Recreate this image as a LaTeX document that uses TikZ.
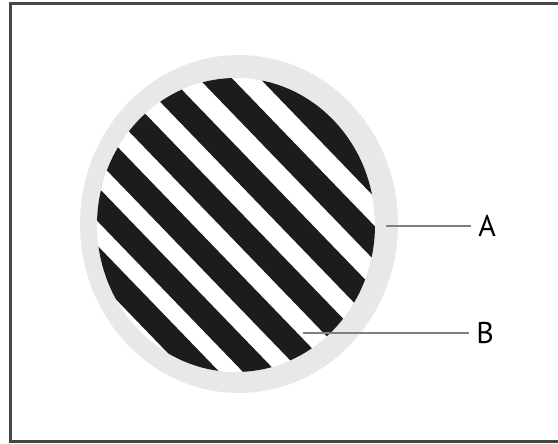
\documentclass[tikz,border=0pt]{standalone}
\usepackage{fontspec}
\setmainfont{PT Sans}
\definecolor{ringgray}{RGB}{232,232,232}
\definecolor{leadgray}{RGB}{128,128,128}
\definecolor{framegray}{RGB}{70,70,70}
\definecolor{stripeblack}{RGB}{28,28,28}
\begin{document}
\begin{tikzpicture}[x=0.5pt,y=0.5pt,
  leader/.style={draw=leadgray,line width=1.4pt},
  lbl/.style={anchor=west,inner xsep=3.5pt,inner ysep=0pt,font=\fontsize{15}{18}\selectfont}]
\useasboundingbox (0,0) rectangle (558,444);
\draw[framegray,line width=1.5pt] (562,440) -- (10.5,440) -- (10.5,2.5) -- (562,2.5);

% ring and striped core
\fill[ringgray] (239,220) ellipse [x radius=159,y radius=169];
\begin{scope}
\clip (236,219) ellipse [x radius=139,y radius=147];
\fill[white] (236,219) ellipse [x radius=139,y radius=147];
\begin{scope}[shift={(236,219)},rotate=-46]
\foreach \c in {-126,-85,-43,0,43,87,131}
  \fill[stripeblack] (-200,\c-12) rectangle (200,\c+12);
\end{scope}
\end{scope}

\coordinate (A-tip) at (386,218);
\node[lbl] (A-label) at (471,218) {A};
\draw[leader] (A-tip) -- (A-label);

\coordinate (B-tip) at (303,111);
\node[lbl] (B-label) at (469,111) {B};
\draw[leader] (B-tip) -- (B-label);
\end{tikzpicture}
\end{document}
